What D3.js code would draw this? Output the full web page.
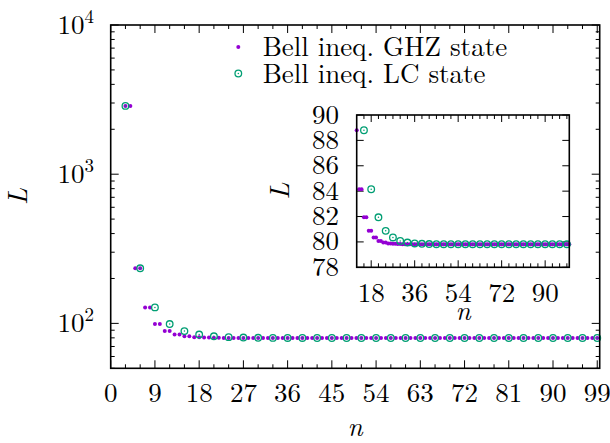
<!DOCTYPE html>
<html>
<head>
<meta charset="utf-8">
<script src="https://cdn.jsdelivr.net/npm/d3@7"></script>
<style>
  html, body { margin: 0; padding: 0; background: #fff; }
  svg { display: block; }
</style>
</head>
<body>
<div id="chart"></div>
<script>
// ---------------- data ----------------
// GHZ state: n = 3 .. 100
const ghzStart = 3;
const ghzValues = [
  2870, 2870, 234, 234, 128, 128, 99, 99, 88.8, 88.8,
  84.15, 84.15, 81.94, 81.94, 80.87, 80.87, 80.35, 80.35, 80.08, 80.08,
  79.95, 79.95, 79.88, 79.88, 79.85, 79.85, 79.83, 79.83, 79.82, 79.82,
  79.82, 79.82, 79.82, 79.82, 79.82, 79.82, 79.82, 79.82, 79.82, 79.82,
  79.82, 79.82, 79.82, 79.82, 79.82, 79.82, 79.82, 79.82, 79.82, 79.82,
  79.82, 79.82, 79.82, 79.82, 79.82, 79.82, 79.82, 79.82, 79.82, 79.82,
  79.82, 79.82, 79.82, 79.82, 79.82, 79.82, 79.82, 79.82, 79.82, 79.82,
  79.82, 79.82, 79.82, 79.82, 79.82, 79.82, 79.82, 79.82, 79.82, 79.82,
  79.82, 79.82, 79.82, 79.82, 79.82, 79.82, 79.82, 79.82, 79.82, 79.82,
  79.82, 79.82, 79.82, 79.82, 79.82, 79.82, 79.82, 79.82
];
// LC state: n = 3, 6, 9, ..., 99
const lcN = [3,6,9,12,15,18,21,24,27,30,33,36,39,42,45,48,51,54,57,60,63,66,69,72,75,78,81,84,87,90,93,96,99];
const lcValues = [
  2870, 234, 128, 99, 88.8, 84.15, 81.94, 80.87, 80.35, 80.08,
  79.95, 79.88, 79.85, 79.83, 79.82, 79.82, 79.82, 79.82, 79.82, 79.82,
  79.82, 79.82, 79.82, 79.82, 79.82, 79.82, 79.82, 79.82, 79.82, 79.82,
  79.82, 79.82, 79.82
];
const mainXTicks = [0, 9, 18, 27, 36, 45, 54, 63, 72, 81, 90, 99];
const mainYTicks = [100, 1000, 10000];
const mainYTickExp = ["2", "3", "4"];
const insetXTicks = [18, 36, 54, 72, 90];
const insetYTicks = [78, 80, 82, 84, 86, 88, 90];
const legendLabels = ["Bell ineq. GHZ state", "Bell ineq. LC state"];
const colors = ["#9400D3", "#009E73"];

const ghz = ghzValues.map((v, i) => ({ n: ghzStart + i, v }));
const lc = lcValues.map((v, i) => ({ n: lcN[i], v }));

// ---------------- layout ----------------
const W = 610, H = 443;
const FS = 27;
const FONT = '"Latin Modern Roman", "CMU Serif", "Liberation Serif", serif';
const svg = d3.select("#chart").append("svg").attr("width", W).attr("height", H)
  .style("font-family", FONT);

const M = { l: 110.7, r: 599.7, t: 25, b: 368.3 };
const I = { l: 356.7, r: 569.3, t: 115, b: 267.3 };

const x = d3.scaleLinear().domain([0, 99.5]).range([M.l, M.r]);
const y = d3.scaleLog().domain([50, 10000]).range([M.b, M.t]);
const xi = d3.scaleLinear().domain([12, 100]).range([I.l, I.r]);
const yi = d3.scaleLinear().domain([78, 90]).range([I.b, I.t]);

function txt(g) { return g.append("text").style("font-family", FONT).attr("font-size", FS); }

function drawGhz(g, data, sx, sy) {
  g.selectAll("circle.ghz").data(data).enter().append("circle")
    .attr("class", "ghz")
    .attr("cx", d => sx(d.n)).attr("cy", d => sy(d.v))
    .attr("r", 2).attr("fill", colors[0]);
}
function lcMarker(g, cx, cy) {
  g.append("circle").attr("cx", cx).attr("cy", cy).attr("r", 3.3)
    .attr("fill", "none").attr("stroke", colors[1]).attr("stroke-width", 1.3);
  g.append("circle").attr("cx", cx).attr("cy", cy).attr("r", 0.75).attr("fill", colors[1]);
}
function drawLc(g, data, sx, sy) {
  data.forEach(d => lcMarker(g, sx(d.n), sy(d.v)));
}

// ---------------- main axes ----------------
const main = svg.append("g");
const ticksG = main.append("g").attr("stroke", "#000").attr("stroke-width", 1);

const xMinor = d3.range(0, 100, 3).filter(v => mainXTicks.indexOf(v) < 0);
mainXTicks.forEach(t => {
  ticksG.append("line").attr("x1", x(t)).attr("x2", x(t)).attr("y1", M.b).attr("y2", M.b - 8);
  ticksG.append("line").attr("x1", x(t)).attr("x2", x(t)).attr("y1", M.t).attr("y2", M.t + 8);
});
xMinor.forEach(t => {
  ticksG.append("line").attr("x1", x(t)).attr("x2", x(t)).attr("y1", M.b).attr("y2", M.b - 4);
  ticksG.append("line").attr("x1", x(t)).attr("x2", x(t)).attr("y1", M.t).attr("y2", M.t + 4);
});
const yMinor = [];
[10, 100, 1000].forEach(dec => { for (let k = 2; k <= 9; k++) { const v = dec * k; if (v >= 50 && v < 10000) yMinor.push(v); } });
mainYTicks.forEach(t => {
  ticksG.append("line").attr("x1", M.l).attr("x2", M.l + 8).attr("y1", y(t)).attr("y2", y(t));
  ticksG.append("line").attr("x1", M.r).attr("x2", M.r - 8).attr("y1", y(t)).attr("y2", y(t));
});
yMinor.forEach(t => {
  ticksG.append("line").attr("x1", M.l).attr("x2", M.l + 4).attr("y1", y(t)).attr("y2", y(t));
  ticksG.append("line").attr("x1", M.r).attr("x2", M.r - 4).attr("y1", y(t)).attr("y2", y(t));
});

mainXTicks.forEach(t => {
  txt(main).attr("x", x(t)).attr("y", 402).attr("text-anchor", "middle").text(t);
});
mainYTicks.forEach((t, i) => {
  const tx = txt(main).attr("x", 94).attr("y", y(t) + 8.5).attr("text-anchor", "end");
  tx.append("tspan").text("10");
  tx.append("tspan").attr("dy", -11).attr("font-size", 19).text(mainYTickExp[i]);
});
txt(main).attr("x", (M.l + M.r) / 2).attr("y", 436).attr("text-anchor", "middle")
  .attr("font-style", "italic").text("n");
txt(main).attr("transform", `translate(26.5,${(M.t + M.b) / 2}) rotate(-90)`)
  .attr("text-anchor", "middle").attr("font-style", "italic").text("L");

const mainData = main.append("g");
drawGhz(mainData, ghz.filter(d => d.n <= 99.5), x, y);
drawLc(mainData, lc.filter(d => d.n <= 99.5), x, y);

main.append("rect").attr("x", M.l).attr("y", M.t).attr("width", M.r - M.l).attr("height", M.b - M.t)
  .attr("fill", "none").attr("stroke", "#000").attr("stroke-width", 1.6);

// legend
const leg = svg.append("g");
const legY = [47, 73.5];
leg.append("circle").attr("cx", 238.3).attr("cy", legY[0]).attr("r", 2).attr("fill", colors[0]);
lcMarker(leg, 238.3, legY[1]);
legendLabels.forEach((s, i) => {
  txt(leg).attr("x", 262.7).attr("y", legY[i] + 9).text(s);
});

// ---------------- inset ----------------
const ins = svg.append("g");
ins.append("rect").attr("x", I.l).attr("y", I.t).attr("width", I.r - I.l).attr("height", I.b - I.t)
  .attr("fill", "#fff");
const iticks = ins.append("g").attr("stroke", "#000").attr("stroke-width", 1);
const ixMinor = d3.range(15, 100, 3).filter(v => insetXTicks.indexOf(v) < 0);
insetXTicks.forEach(t => {
  iticks.append("line").attr("x1", xi(t)).attr("x2", xi(t)).attr("y1", I.b).attr("y2", I.b - 7);
  iticks.append("line").attr("x1", xi(t)).attr("x2", xi(t)).attr("y1", I.t).attr("y2", I.t + 7);
});
ixMinor.forEach(t => {
  iticks.append("line").attr("x1", xi(t)).attr("x2", xi(t)).attr("y1", I.b).attr("y2", I.b - 4);
  iticks.append("line").attr("x1", xi(t)).attr("x2", xi(t)).attr("y1", I.t).attr("y2", I.t + 4);
});
insetYTicks.forEach(t => {
  iticks.append("line").attr("x1", I.l).attr("x2", I.l + 7).attr("y1", yi(t)).attr("y2", yi(t));
  iticks.append("line").attr("x1", I.r).attr("x2", I.r - 7).attr("y1", yi(t)).attr("y2", yi(t));
});
insetXTicks.forEach(t => {
  txt(ins).attr("x", xi(t)).attr("y", 301.7).attr("text-anchor", "middle").text(t);
});
insetYTicks.forEach(t => {
  txt(ins).attr("x", 339).attr("y", yi(t) + 8.5).attr("text-anchor", "end").text(t);
});
txt(ins).attr("x", (I.l + I.r) / 2).attr("y", 320).attr("text-anchor", "middle")
  .attr("font-style", "italic").text("n");
txt(ins).attr("transform", `translate(289,${(I.t + I.b) / 2}) rotate(-90)`)
  .attr("text-anchor", "middle").attr("font-style", "italic").text("L");

const inD = ins.append("g");
const inRange = d => d.n >= 12 && d.n <= 100 && d.v >= 78 && d.v <= 90;
drawGhz(inD, ghz.filter(inRange), xi, yi);
drawLc(inD, lc.filter(inRange), xi, yi);

ins.append("rect").attr("x", I.l).attr("y", I.t).attr("width", I.r - I.l).attr("height", I.b - I.t)
  .attr("fill", "none").attr("stroke", "#000").attr("stroke-width", 1.6);
</script>
</body>
</html>
